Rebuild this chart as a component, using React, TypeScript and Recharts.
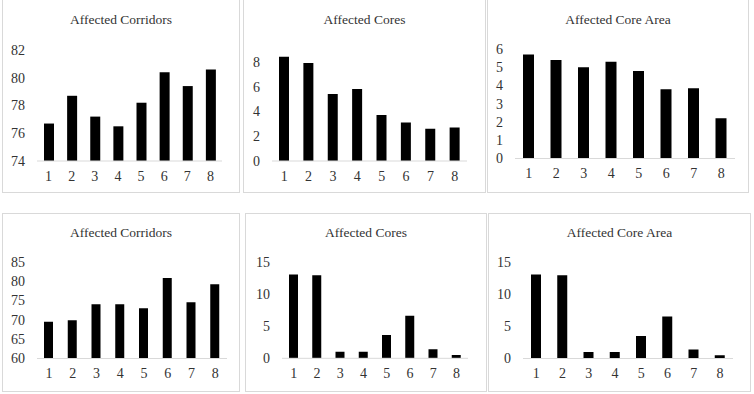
import { Bar, BarChart, XAxis, YAxis } from "recharts";

const categories = ["1", "2", "3", "4", "5", "6", "7", "8"];

const corridorsA = [76.7, 78.7, 77.2, 76.5, 78.2, 80.4, 79.4, 80.6];
const coresA = [8.4, 7.9, 5.4, 5.8, 3.7, 3.1, 2.6, 2.7];
const coreAreaA = [5.7, 5.4, 5.0, 5.3, 4.8, 3.8, 3.85, 2.2];

const corridorsB = [69.5, 69.9, 74, 74, 73, 80.8, 74.5, 79.2];
const coresB = [13, 12.9, 1, 1, 3.6, 6.6, 1.4, 0.5];
const coreAreaB = [13, 12.9, 1, 1, 3.5, 6.5, 1.4, 0.5];

const FONT = '"Liberation Serif", "Times New Roman", serif';
const TEXT = "#333333";
const GRID = "#d9d9d9";

interface Box {
  x: number;
  y: number;
  w: number;
  h: number;
}

interface Plot {
  left: number;
  right: number;
  top: number;
  bottom: number;
}

interface PanelProps {
  title: string;
  values: number[];
  domain: [number, number];
  ticks: number[];
  box: Box;
  plot: Plot;
  barSize: number;
}

function Panel({ title, values, domain, ticks, box, plot, barSize }: PanelProps) {
  const data = categories.map((c, i) => ({ c, v: values[i] }));
  const tick = { fill: TEXT, fontSize: 14, fontFamily: FONT };

  return (
    <>
      <div
        style={{
          position: "absolute",
          left: box.x,
          top: box.y,
          width: box.w,
          height: box.h,
          boxSizing: "border-box",
          border: `1px solid ${GRID}`,
        }}
      />
      <div
        style={{
          position: "absolute",
          left: box.x,
          top: box.y + 13 + (box.y < 0 ? 0 : -1),
          width: box.w,
          textAlign: "center",
          fontFamily: FONT,
          fontSize: 13.5,
          lineHeight: "16px",
          color: TEXT,
        }}
      >
        {title}
      </div>
      <div style={{ position: "absolute", left: box.x, top: box.y }}>
        <BarChart
          width={box.w}
          height={box.h}
          data={data}
          barSize={barSize}
          margin={{ top: plot.top - box.y, right: box.x + box.w - plot.right, bottom: 0, left: 0 }}
        >
          <XAxis
            dataKey="c"
            height={box.y + box.h - plot.bottom}
            axisLine={{ stroke: GRID }}
            tickLine={false}
            tickSize={0}
            tickMargin={10}
            tick={tick}
            interval={0}
          />
          <YAxis
            width={plot.left - box.x}
            domain={domain}
            ticks={ticks}
            interval={0}
            allowDataOverflow
            axisLine={false}
            tickLine={false}
            tickSize={0}
            tickMargin={12}
            tick={tick}
          />
          <Bar dataKey="v" fill="#000000" isAnimationActive={false} />
        </BarChart>
      </div>
    </>
  );
}

export default function App() {
  return (
    <div
      style={{
        position: "fixed",
        left: 0,
        top: 0,
        width: 754,
        height: 394,
        background: "#ffffff",
        overflow: "hidden",
      }}
    >
      <Panel
        title="Affected Corridors"
        values={corridorsA}
        domain={[74, 82]}
        ticks={[74, 76, 78, 80, 82]}
        box={{ x: 2, y: -1, w: 238, h: 194 }}
        plot={{ left: 37, right: 222, top: 50, bottom: 161 }}
        barSize={10}
      />
      <Panel
        title="Affected Cores"
        values={coresA}
        domain={[0, 9]}
        ticks={[0, 2, 4, 6, 8]}
        box={{ x: 243, y: -1, w: 243, h: 194 }}
        plot={{ left: 272, right: 467, top: 49.3, bottom: 161 }}
        barSize={10}
      />
      <Panel
        title="Affected Core Area"
        values={coreAreaA}
        domain={[0, 6]}
        ticks={[0, 1, 2, 3, 4, 5, 6]}
        box={{ x: 487, y: -1, w: 262, h: 194 }}
        plot={{ left: 515, right: 735, top: 49, bottom: 158.5 }}
        barSize={11}
      />
      <Panel
        title="Affected Corridors"
        values={corridorsB}
        domain={[60, 85]}
        ticks={[60, 65, 70, 75, 80, 85]}
        box={{ x: 2, y: 213, w: 238, h: 179 }}
        plot={{ left: 37, right: 227, top: 261.7, bottom: 358.5 }}
        barSize={9}
      />
      <Panel
        title="Affected Cores"
        values={coresB}
        domain={[0, 15]}
        ticks={[0, 5, 10, 15]}
        box={{ x: 245, y: 213, w: 242, h: 179 }}
        plot={{ left: 282, right: 468, top: 261.7, bottom: 358.3 }}
        barSize={9}
      />
      <Panel
        title="Affected Core Area"
        values={coreAreaB}
        domain={[0, 15]}
        ticks={[0, 5, 10, 15]}
        box={{ x: 488, y: 213, w: 263, h: 179 }}
        plot={{ left: 523, right: 733, top: 261.7, bottom: 358.5 }}
        barSize={10}
      />
    </div>
  );
}
